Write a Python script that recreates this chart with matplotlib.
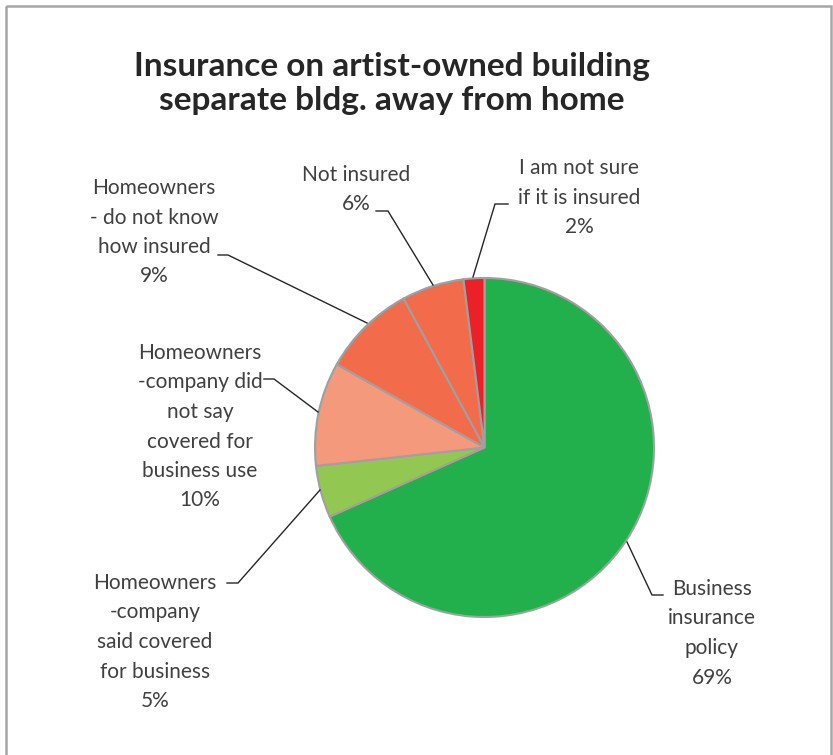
import matplotlib
matplotlib.use("Agg")
import matplotlib.pyplot as plt
from matplotlib.patches import Rectangle

plt.rcParams['font.family'] = ['Lato', 'DejaVu Sans']

# Data
categories = [
    "Business\ninsurance\npolicy",
    "Homeowners\n-company\nsaid covered\nfor business",
    "Homeowners\n-company did\nnot say\ncovered for\nbusiness use",
    "Homeowners\n- do not know\nhow insured",
    "Not insured",
    "I am not sure\nif it is insured",
]
values = [69, 5, 10, 9, 6, 2]
colors = ["#21B04B", "#92C852", "#F4997B", "#F26B4B", "#F26B4B", "#EC2027"]
title = "Insurance on artist-owned building\nseparate bldg. away from home"

W, H = 833, 755
fig = plt.figure(figsize=(W / 100, H / 100), dpi=100)
ax = fig.add_axes([0, 0, 1, 1])

# outer frame
ax.add_patch(Rectangle((6, 6), 825, 760, fill=False, edgecolor="#A6A6A6",
                       linewidth=1.8, clip_on=False))

# pie (y axis is inverted, so counterclock=True draws clockwise on screen)
cx, cy, r = 484.5, 447.5, 169.5
ax.pie(values, colors=colors, startangle=-90, counterclock=True,
       center=(cx, cy), radius=r, frame=True,
       wedgeprops=dict(edgecolor="#A0A0A0", linewidth=1.5))
ax.set_xlim(0, W)
ax.set_ylim(H, 0)
ax.set_aspect('equal')
ax.axis('off')

ax.text(392, 83.5, title, ha='center', va='center', fontsize=24,
        fontweight='bold', color='#262626', linespacing=1.18)

# labels: (text center x, first-line y), leader polyline
label_pos = [
    (712, 589),
    (155, 583),
    (200, 353),
    (154, 188),
    (356, 175),
    (579, 168),
]
leaders = [
    [(627, 542), (652, 595), (663, 595)],
    [(320, 490), (238, 583), (227, 583)],
    [(318, 412), (274, 379), (264, 379)],
    [(367, 323), (228, 255), (218, 255)],
    [(433, 285), (388, 211), (376, 211)],
    [(473, 277), (495, 204), (508, 204)],
]
line_h = 29.5
for cat, v, (tx, ty), pts in zip(categories, values, label_pos, leaders):
    lines = cat.split("\n") + [f"{v}%"]
    for i, s in enumerate(lines):
        ax.text(tx, ty + i * line_h, s, ha='center', va='center',
                fontsize=15, color='#404040')
    xs, ys = zip(*pts)
    ax.plot(xs, ys, color='#262626', linewidth=1.0, solid_joinstyle='miter')

fig.savefig("out.png", dpi=100)
